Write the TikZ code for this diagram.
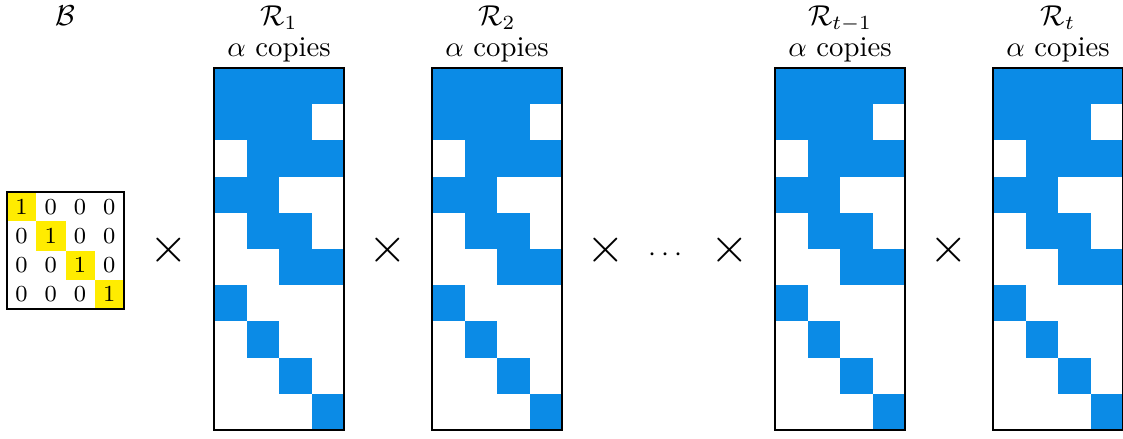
\documentclass[tikz,border=0pt]{standalone}
\usepackage{amsmath}
\usepackage{amsfonts}
\usepackage{tikz}
\definecolor{rblue}{RGB}{11,139,230}
\definecolor{byellow}{RGB}{255,236,0}

\begin{document}
\begin{tikzpicture}[x=0.348pt, y=-0.348pt]
    \tikzstyle{frame} = [draw, line width=0.6pt]
    \tikzstyle{entry} = [inner sep=0pt, font=\footnotesize]
    \tikzstyle{title} = [anchor=base, inner sep=0pt]
    \tikzstyle{op} = [inner sep=0pt, font=\LARGE]
    \useasboundingbox (0,0) rectangle (1123,438);
	% the matrix B
	\begin{scope}[shift={(7,192)}]
		\foreach \i in {0,...,3}
			\fill[byellow] (\i*29.25,\i*29.25) rectangle ++(29.25,29.25);
		\foreach \i in {0,...,3}
			\foreach \j in {0,...,3} {
				\pgfmathtruncatemacro{\v}{\i==\j ? 1 : 0}
				\node[entry] (b\i\j) at (\j*29.25+14.6, \i*29.25+14.6) {$\v$};
			}
		\draw[frame] (0,0) rectangle (117,117);
		\node[title] (lB) at (58.5,-167) {$\mathcal{B}$};
	\end{scope}
	% the matrices R_1 ... R_t
	\foreach \x/\k/\n in {214/1/1, 432/2/2, 775/3/{t-1}, 993/4/t} {
		\begin{scope}[shift={(\x,68)}]
			\foreach \r/\a/\b in {0/0/4, 1/0/3, 2/1/4, 3/0/2, 4/1/3,
				5/2/4, 6/0/1, 7/1/2, 8/2/3, 9/3/4}
				\fill[rblue] (\a*32.5,\r*36.2) rectangle (\b*32.5,\r*36.2+36.2);
			\draw[frame] (0,0) rectangle (130,362);
			\node[title] (lR\k) at (65,-43) {$\mathcal{R}_{\n}$};
			\node[title] (cp\k) at (65,-12) {$\alpha$ copies};
		\end{scope}
	}
	\foreach \x [count=\k] in {169,388,606,730,949}
		\node[op] (x\k) at (\x,250) {$\times$};
	\node (dots) at (668,255) {$\cdots$};
\end{tikzpicture}
\end{document}
